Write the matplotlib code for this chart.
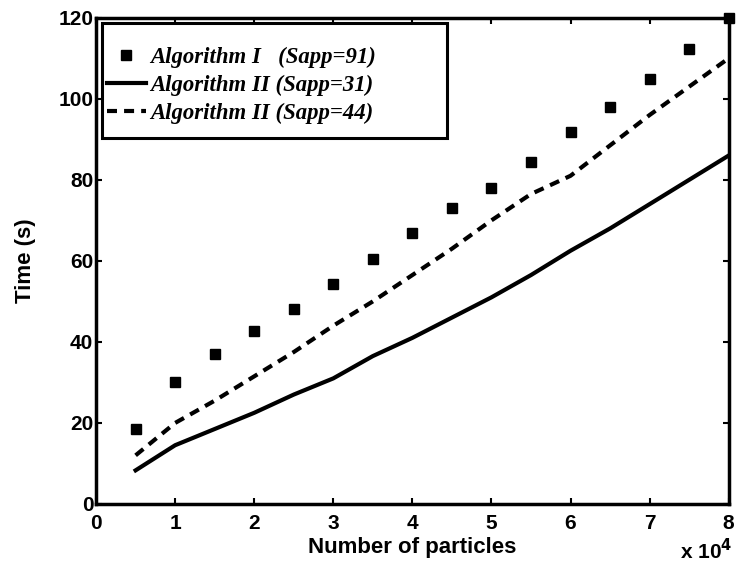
import numpy as np
import matplotlib.pyplot as plt
from matplotlib.patches import Rectangle

# number of particles (x 10^4 on the axis)
particles = [5000, 10000, 15000, 20000, 25000, 30000, 35000, 40000,
             45000, 50000, 55000, 60000, 65000, 70000, 75000, 80000]

alg1_s91 = [18.6, 30.0, 37.0, 42.6, 48.2, 54.2, 60.5, 66.8,
            73.0, 78.0, 84.5, 91.7, 98.0, 105.0, 112.4, 120.0]
alg2_s31 = [8.3, 14.5, 18.5, 22.5, 27.0, 31.0, 36.5, 41.0,
            46.0, 51.0, 56.5, 62.5, 68.0, 74.0, 80.0, 86.0]
alg2_s44 = [12.0, 20.0, 25.5, 31.5, 37.5, 44.0, 50.0, 56.5,
            63.0, 70.0, 76.5, 81.0, 88.5, 96.0, 103.0, 110.0]

labels = ["Algorithm I   (Sapp=91)", "Algorithm II (Sapp=31)", "Algorithm II (Sapp=44)"]

x = np.array(particles) / 1e4

fig = plt.figure(figsize=(7.39, 5.74), dpi=100)
ax = fig.add_axes([0.130, 0.122, 0.856, 0.847])

ax.plot(x, alg1_s91, linestyle='none', marker='s', markersize=6.5, color='black',
        clip_on=False, label=labels[0])
ax.plot(x, alg2_s31, '-', color='black', linewidth=3, label=labels[1])
ax.plot(x, alg2_s44, '--', color='black', linewidth=3, dashes=(2.4, 1.7), label=labels[2])

ax.set_xlim(0, 8)
ax.set_ylim(0, 120)
ax.set_xticks(range(0, 9))
ax.set_yticks(range(0, 121, 20))

tickfont = dict(family='Liberation Sans', weight='bold', size=15)
labfont = dict(family='Liberation Sans', weight='bold', size=16)
ax.set_xticklabels([str(i) for i in range(0, 9)], fontdict=tickfont)
ax.set_yticklabels([str(v) for v in range(0, 121, 20)], fontdict=tickfont)
ax.tick_params(direction='in', length=4, width=1.5, top=True, right=True)
ax.tick_params(axis='x', pad=7)
ax.tick_params(axis='y', pad=2)

for sp in ax.spines.values():
    sp.set_linewidth(2.5)

ax.set_xlabel("Number of particles", fontdict=labfont, labelpad=3)
ax.set_ylabel("Time (s)", fontdict=labfont, labelpad=16)
ax.text(1.006, -0.07, r"x 10$^{\mathbf{4}}$", transform=ax.transAxes, ha='right', va='top',
        fontfamily='Liberation Sans', fontweight='bold', fontsize=15)

# legend box, drawn separately so it can be wider than its entries
ax.add_patch(Rectangle((0.009, 0.753), 0.546, 0.237, transform=ax.transAxes,
                       fill=True, facecolor='white', edgecolor='black', linewidth=2.2,
                       zorder=4))
leg = ax.legend(loc='upper left', bbox_to_anchor=(0.017, 0.94), frameon=False,
                handlelength=1.7, handletextpad=0.2, borderpad=0, borderaxespad=0,
                labelspacing=0.3, numpoints=1,
                prop=dict(family='Liberation Serif', weight='bold', style='italic', size=16.4))
leg.set_zorder(5)

fig.savefig("out.png", dpi=100)
